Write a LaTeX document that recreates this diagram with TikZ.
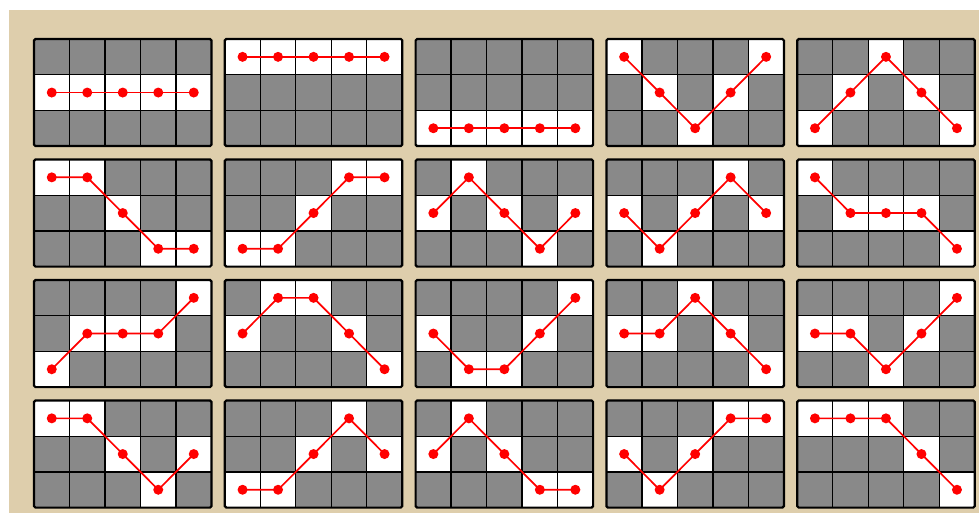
\documentclass[tikz,border=0pt]{standalone}
\usepackage{xcolor}
\usepackage{tikz}
\usetikzlibrary{calc}

\definecolor{sandbg}{RGB}{222,206,172}
\definecolor{cellgray}{RGB}{137,137,137}
\definecolor{pathred}{RGB}{255,0,0}

\tikzset{
    blockcell/.style={fill=cellgray},
    opencell/.style={fill=white},
    gridline/.style={draw=black, line width=1.3pt},
    gridframe/.style={draw=black, line width=2.2pt, rounded corners=1.5pt},
    pathlink/.style={draw=pathred, line width=1.7pt},
    pathdot/.style={fill=pathred}
}

\begin{document}
\begin{tikzpicture}[
    x=1pt,
    y=-1pt
]

\useasboundingbox (0,0) rectangle (979,513);

% =========================================================
% BACKGROUND
% =========================================================
\fill[sandbg] (9,10) rectangle (979,513);

\def\cw{35.5}
\def\ch{35.7}

% =========================================================
% 4 x 5 PANELS: one row index (0 top .. 2 bottom) per column
% =========================================================
\foreach \pat [count=\k from 0] in {
    {1,1,1,1,1},{0,0,0,0,0},{2,2,2,2,2},{0,1,2,1,0},{2,1,0,1,2},
    {0,0,1,2,2},{2,2,1,0,0},{1,0,1,2,1},{1,2,1,0,1},{0,1,1,1,2},
    {2,1,1,1,0},{1,0,0,1,2},{1,2,2,1,0},{1,1,0,1,2},{1,1,2,1,0},
    {0,0,1,2,1},{2,2,1,0,1},{1,0,1,2,2},{1,2,1,0,0},{0,0,0,1,2}}{
\pgfmathtruncatemacro{\gc}{mod(\k,5)}
\pgfmathtruncatemacro{\gr}{int(\k/5)}
\begin{scope}[shift={({34+190.8*\gc},{39+120.5*\gr})}]

% gray cells
\fill[blockcell] (0,0) rectangle (5*\cw,3*\ch);

% open cells and path points
\foreach \v [count=\c from 0] in \pat {
    \fill[opencell] (\c*\cw,\v*\ch) rectangle ++(\cw,\ch);
    \coordinate (p\c) at ({(\c+0.5)*\cw},{(\v+0.5)*\ch});
}

% grid lines
\foreach \c in {1,...,4}
    \draw[gridline] (\c*\cw,0) -- (\c*\cw,3*\ch);
\foreach \r in {1,2}
    \draw[gridline] (0,\r*\ch) -- (5*\cw,\r*\ch);
\draw[gridframe] (0,0) rectangle (5*\cw,3*\ch);

% path
\draw[pathlink] (p0) -- (p1) -- (p2) -- (p3) -- (p4);
\foreach \c in {0,...,4}
    \fill[pathdot] (p\c) circle (5);

\end{scope}
}

\end{tikzpicture}
\end{document}
